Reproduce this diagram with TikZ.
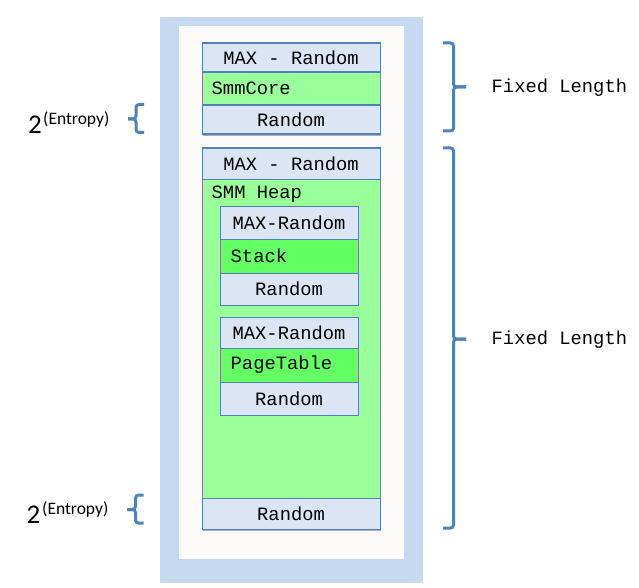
\documentclass[tikz,border=0pt]{standalone}
\usepackage{fontspec}
\setmainfont{Liberation Mono}
\newfontfamily\calib{Carlito}
\usetikzlibrary{shadows}
\definecolor{outerblue}{RGB}{198,217,240}
\definecolor{innerwhite}{RGB}{252,251,250}
\definecolor{boxblue}{RGB}{219,229,243}
\definecolor{edgeblue}{RGB}{79,129,189}
\definecolor{heapgreen}{RGB}{153,255,153}
\definecolor{stackgreen}{RGB}{99,255,99}
\definecolor{edgegray}{RGB}{128,128,128}
\definecolor{bracecol}{RGB}{79,129,189}
\tikzset{
  every node/.style={font=\fontsize{18.8}{20}\selectfont, text=black, inner sep=0pt},
  blk/.style={draw=edgeblue, fill=boxblue, line width=1.1pt, anchor=north west, minimum width=#1},
  grn/.style={draw=edgegray, fill=heapgreen, line width=1.1pt, anchor=north west, minimum width=#1},
  dgrn/.style={draw=edgegray, fill=stackgreen, line width=1.1pt, anchor=north west, minimum width=#1},
  shad/.style={fill=black, opacity=0.3, anchor=north west, minimum width=#1},
  lbl/.style={anchor=west},
  brace/.style={draw=bracecol, line width=3pt, rounded corners=3pt},
  ent/.style={font=\calib\fontsize{27}{29}\selectfont, anchor=base west},
  entsup/.style={font=\calib\fontsize{17.5}{19}\selectfont, anchor=base west}
}
\begin{document}
\begin{tikzpicture}[x=1pt,y=-1pt]
\useasboundingbox (0,0) rectangle (639,588);
% backgrounds
\fill[outerblue] (160,17) rectangle (423,583);
\fill[innerwhite] (179,26) rectangle (404,559);
% shadows
\node[shad=178pt, minimum height=91pt] (s1) at (203,45) {};
\node[shad=178pt, minimum height=381pt] (s2) at (203,150) {};
\node[shad=138pt, minimum height=98pt] (s3) at (221,209) {};
\node[shad=138pt, minimum height=98pt] (s4) at (221,319) {};
% box 1
\node[grn=178pt, minimum height=33pt] (core) at (201.5,71.5) {};
\node[blk=178pt, minimum height=29pt] (max1) at (201.5,42.5) {MAX - Random};
\node[blk=178pt, minimum height=29pt] (rnd1) at (201.5,104.5) {Random};
\node[lbl] (coret) at (211.5,88) {SmmCore};
% box 2
\node[grn=178pt, minimum height=319pt] (heap) at (201.5,178.5) {};
\node[blk=178pt, minimum height=31pt] (max2) at (201.5,147.5) {MAX - Random};
\node[blk=178pt, minimum height=31pt] (rnd2) at (201.5,497.5) {Random};
\node[lbl] (heapt) at (211.5,194.5) {SMM Heap};
% stack
\node[dgrn=138pt, minimum height=34pt] (stk) at (219.5,238.5) {};
\node[blk=138pt, minimum height=32.5pt] (max3) at (219.5,206) {MAX-Random};
\node[blk=138pt, minimum height=32pt] (rnd3) at (219.5,272.5) {Random};
\node[lbl] (stkt) at (230.5,255.5) {Stack};
% page table
\node[dgrn=138pt, minimum height=34pt] (pt) at (219.5,347.5) {};
\node[blk=138pt, minimum height=31pt] (max4) at (219.5,316.5) {MAX-Random};
\node[blk=138pt, minimum height=33pt] (rnd4) at (219.5,381.5) {Random};
\node[lbl] (ptt) at (230.5,364.5) {PageTable};
% right braces
\draw[brace] (443,43) -- (453.5,43) -- (453.5,87) -- (466,87);
\draw[brace] (466,87) -- (453.5,87) -- (453.5,131) -- (443,131);
\draw[brace] (443,148) -- (453.5,148) -- (453.5,339) -- (466,339);
\draw[brace] (466,339) -- (453.5,339) -- (453.5,528) -- (443,528);
\node[lbl] (fl1) at (491.5,87.5) {Fixed Length};
\node[lbl] (fl2) at (491.5,340) {Fixed Length};
% left braces
\draw[brace] (144,104.5) -- (136,104.5) -- (136,119) -- (128,119);
\draw[brace] (128,119) -- (136,119) -- (136,132.5) -- (144,132.5);
\draw[brace] (143.5,495) -- (135.5,495) -- (135.5,509.5) -- (127,509.5);
\draw[brace] (127,509.5) -- (135.5,509.5) -- (135.5,523) -- (143.5,523);
% entropy labels
\node[ent] (e1) at (28,133.5) {2};
\node[entsup] (e1s) at (43,124.5) {(Entropy)};
\node[ent] (e2) at (26.5,523.5) {2};
\node[entsup] (e2s) at (42,514) {(Entropy)};
\end{tikzpicture}
\end{document}
